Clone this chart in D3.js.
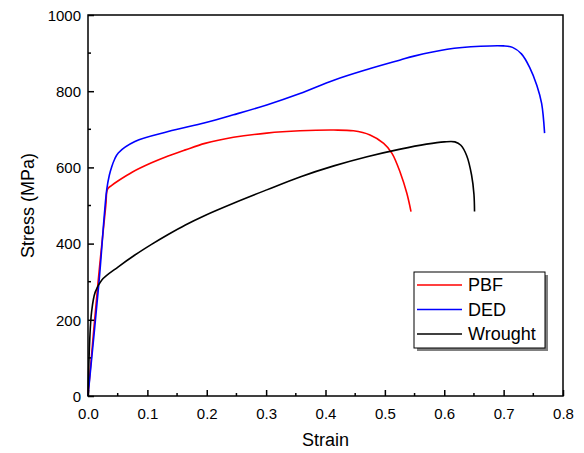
<!DOCTYPE html>
<html>
<head>
<meta charset="utf-8">
<script src="https://cdn.jsdelivr.net/npm/d3@7"></script>
<style>
  html, body { margin: 0; padding: 0; background: #fff; }
  svg { display: block; font-family: Arial, "Liberation Sans", sans-serif; }
</style>
</head>
<body>
<svg id="chart" width="584" height="453"></svg>
<script>
// ---- data (strain, stress MPa) ----
const pbf = [
  [0, 0], [0.017, 300], [0.030, 500], [0.033, 543], [0.040, 553], [0.051, 565], [0.075, 588],
  [0.107, 612], [0.135, 630], [0.164, 646], [0.197, 663], [0.245, 679], [0.301, 690],
  [0.357, 696], [0.414, 698], [0.447, 696], [0.475, 685], [0.498, 663], [0.512, 637],
  [0.526, 586], [0.537, 532], [0.544, 484]
];
const ded = [
  [0, 0], [0.0186, 300], [0.0315, 541], [0.036, 580], [0.040, 602], [0.045, 622], [0.051, 638],
  [0.079, 668], [0.135, 694], [0.197, 717], [0.245, 738], [0.301, 764], [0.357, 794],
  [0.414, 829], [0.470, 857], [0.526, 882], [0.549, 892], [0.605, 910], [0.661, 918],
  [0.700, 919], [0.715, 915], [0.730, 898], [0.744, 862], [0.756, 815], [0.764, 768], [0.769, 690]
];
const wrought = [
  [0, 0], [0.003, 150], [0.006, 220], [0.012, 272], [0.023, 304], [0.051, 339], [0.079, 370],
  [0.107, 398], [0.135, 424], [0.164, 449], [0.197, 474], [0.245, 506], [0.301, 541],
  [0.357, 575], [0.414, 604], [0.470, 628], [0.526, 648], [0.570, 661], [0.600, 667],
  [0.618, 667], [0.628, 658], [0.638, 630], [0.646, 580], [0.650, 530], [0.651, 484]
];
const series = [
  { name: "PBF", color: "#ff0000", values: pbf },
  { name: "DED", color: "#0000ff", values: ded },
  { name: "Wrought", color: "#000000", values: wrought }
];
const xTicks = [0, 0.1, 0.2, 0.3, 0.4, 0.5, 0.6, 0.7, 0.8];
const yTicks = [0, 200, 400, 600, 800, 1000];

// ---- layout ----
const m = { left: 88, top: 15, right: 563, bottom: 396 };
const svg = d3.select("#chart");
const x = d3.scaleLinear().domain([0, 0.8]).range([m.left, m.right]);
const y = d3.scaleLinear().domain([0, 1000]).range([m.bottom, m.top]);

// frame
svg.append("rect")
  .attr("x", m.left).attr("y", m.top)
  .attr("width", m.right - m.left).attr("height", m.bottom - m.top)
  .attr("fill", "none").attr("stroke", "#000").attr("stroke-width", 1.5);

// curves
const line = d3.line().x((d) => x(d[0])).y((d) => y(d[1])).curve(d3.curveCatmullRom.alpha(0.5));
for (const s of series) {
  svg.append("path")
    .attr("d", line(s.values))
    .attr("fill", "none")
    .attr("stroke", s.color)
    .attr("stroke-width", 1.6)
    .attr("stroke-linejoin", "round");
}

// axes: ticks point inward, minor ticks halfway
const xMinor = d3.range(0.05, 0.8, 0.1);
const yMinor = d3.range(100, 1000, 200);
const xAxis = d3.axisBottom(x).tickValues(xTicks).tickFormat(d3.format(".1f")).tickSizeInner(-6).tickSizeOuter(0).tickPadding(12);
const yAxis = d3.axisLeft(y).tickValues(yTicks).tickFormat(d3.format("d")).tickSizeInner(-6).tickSizeOuter(0).tickPadding(7);

const gx = svg.append("g").attr("transform", `translate(0,${m.bottom})`).call(xAxis);
const gy = svg.append("g").attr("transform", `translate(${m.left},0)`).call(yAxis);
for (const g of [gx, gy]) {
  g.select(".domain").remove();
  g.selectAll("line").attr("stroke-width", 1.5);
  g.selectAll("text").attr("font-size", 15).attr("fill", "#000").attr("font-family", "Arial, 'Liberation Sans', sans-serif");
}
gy.selectAll("text").attr("dy", "0.35em");

svg.append("g").selectAll("line").data(xMinor).join("line")
  .attr("x1", (d) => x(d)).attr("x2", (d) => x(d))
  .attr("y1", m.bottom).attr("y2", m.bottom - 3)
  .attr("stroke", "#000").attr("stroke-width", 1.5);
svg.append("g").selectAll("line").data(yMinor).join("line")
  .attr("x1", m.left).attr("x2", m.left + 3)
  .attr("y1", (d) => y(d)).attr("y2", (d) => y(d))
  .attr("stroke", "#000").attr("stroke-width", 1.5);

// axis titles
svg.append("text")
  .attr("x", (m.left + m.right) / 2).attr("y", 446)
  .attr("text-anchor", "middle").attr("font-size", 18)
  .text("Strain");
svg.append("text")
  .attr("transform", `translate(34,${(m.top + m.bottom) / 2}) rotate(-90)`)
  .attr("text-anchor", "middle").attr("font-size", 18)
  .text("Stress (MPa)");

// legend with drop shadow
const lg = svg.append("g").attr("transform", "translate(414,272)");
lg.append("rect").attr("x", 3).attr("y", 3).attr("width", 131).attr("height", 76).attr("fill", "#808080");
lg.append("rect").attr("width", 131).attr("height", 76).attr("fill", "#fff").attr("stroke", "#000").attr("stroke-width", 1);
series.forEach((s, i) => {
  const yy = 13 + i * 24.5;
  lg.append("line").attr("x1", 3).attr("x2", 48).attr("y1", yy).attr("y2", yy)
    .attr("stroke", s.color).attr("stroke-width", 1.6);
  lg.append("text").attr("x", 54).attr("y", yy).attr("dy", "0.36em")
    .attr("font-size", 18).text(s.name);
});
</script>
</body>
</html>
